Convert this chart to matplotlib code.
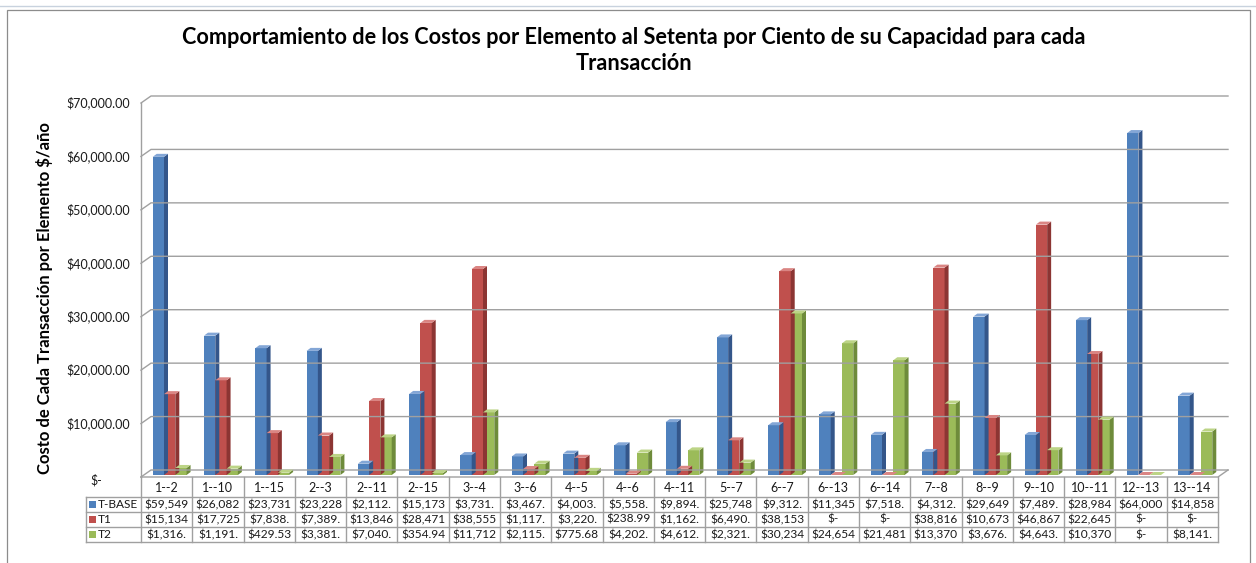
import matplotlib
matplotlib.use("Agg")
import matplotlib.pyplot as plt
from matplotlib.patches import Polygon, Rectangle
from matplotlib.lines import Line2D
from matplotlib.transforms import ScaledTranslation, IdentityTransform

plt.rcParams["text.parse_math"] = False
plt.rcParams["font.family"] = ["Lato", "DejaVu Sans"]

# ---- data -------------------------------------------------------------
categories = ["1--2", "1--10", "1--15", "2--3", "2--11", "2--15", "3--4",
              "3--6", "4--5", "4--6", "4--11", "5--7", "6--7", "6--13",
              "6--14", "7--8", "8--9", "9--10", "10--11", "12--13", "13--14"]
t_base = [59549, 26082, 23731, 23228, 2112, 15173, 3731, 3467, 4003, 5558,
          9894, 25748, 9312, 11345, 7518, 4312, 29649, 7489, 28984, 64000,
          14858]
t1 = [15134, 17725, 7838, 7389, 13846, 28471, 38555, 1117, 3220, 238.99,
      1162, 6490, 38153, 0, 0, 38816, 10673, 46867, 22645, 0, 0]
t2 = [1316, 1191, 429.53, 3381, 7040, 354.94, 11712, 2115, 775.68, 4202,
      4612, 2321, 30234, 24654, 21481, 13370, 3676, 4643, 10370, 0, 8141]
series_names = ["T-BASE", "T1", "T2"]
y_ticks = [0, 10000, 20000, 30000, 40000, 50000, 60000, 70000]

title_lines = ["Comportamiento de los Costos por Elemento al Setenta por Ciento de su Capacidad para cada",
               "Transacción"]
y_label = "Costo de Cada Transacción por Elemento $/año"

series = [t_base, t1, t2]
face_col = ["#4F81BD", "#C0504D", "#9BBB59"]
side_col = ["#34568A", "#8C3533", "#6E8B3B"]
top_col = ["#83A6D6", "#DA8583", "#BCD486"]
grid_col = "#A0A0A0"
text_col = "#1A1A1A"

# ---- figure / axes ----------------------------------------------------
W, H = 1256, 563
fig = plt.figure(figsize=(W / 100, H / 100), dpi=100)
fig.patch.set_facecolor("white")
L, R, B, T = 141, 1218, 477, 103        # front plane box, pixels from top-left
ax = fig.add_axes([L / W, 1 - B / H, (R - L) / W, (B - T) / H])
n = len(categories)
ax.set_xlim(-0.5, n - 0.5)
ax.set_ylim(0, 70000)
ax.axis("off")

IDT = IdentityTransform()
WALL = (10, 7)        # depth of the back wall in pixels
BAR_SHIFT = (3, 2)    # bars sit slightly behind the front plane
BAR_DEPTH = (4, 3)


def disp(x, y, dx=0.0, dy=0.0):
    px, py = ax.transData.transform((x, y))
    return (px + dx, py + dy)


def pix(x, y_from_top):
    return (x, H - y_from_top)


def line(points, **kw):
    xs = [p[0] for p in points]
    ys = [p[1] for p in points]
    fig.add_artist(Line2D(xs, ys, transform=IDT, **kw))


# chart frame and sheet line above it
fig.add_artist(Rectangle(pix(7, 566), 1243, 556, transform=IDT, fill=False,
                         edgecolor="#8C8C8C", lw=0.9))
line([pix(0, 6), pix(W, 6)], color="#C8D2DE", lw=1)

# ---- walls and gridlines ---------------------------------------------
x_left, x_right = -0.5, n - 0.5
for v in y_ticks:
    line([disp(x_left, v), disp(x_left, v, *WALL), disp(x_right, v, *WALL)],
         color=grid_col, lw=1.0)
line([disp(x_left, 0), disp(x_left, 70000)], color=grid_col, lw=1.0)
line([disp(x_left, 0), disp(x_right, 0), disp(x_right, 0, *WALL)],
     color=grid_col, lw=1.0)

# y tick labels
for v in y_ticks:
    px_, py_ = disp(x_left, v)
    if v == 0:
        fig.text(96, py_ - 3, "$-", transform=IDT, ha="center", va="center",
                 fontsize=9, color=text_col)
    else:
        fig.text(px_ - 11, py_, f"${v:,.2f}", transform=IDT, ha="right",
                 va="center", fontsize=9, color=text_col)

# ---- 3D-looking clustered columns -------------------------------------
bw = 0.22
offsets = [-bw, 0.0, bw]
shift = ScaledTranslation(BAR_SHIFT[0] / 100, BAR_SHIFT[1] / 100,
                          fig.dpi_scale_trans)
for s, vals in enumerate(series):
    xs = [i + offsets[s] for i in range(n)]
    ax.bar(xs, vals, bw, color=face_col[s], linewidth=0,
           transform=ax.transData + shift, zorder=3, clip_on=False)
    for x, v in zip(xs, vals):
        x0, x1 = x - bw / 2, x + bw / 2
        sx, sy = BAR_SHIFT
        dx, dy = BAR_DEPTH
        side = [disp(x1, 0, sx, sy), disp(x1, v, sx, sy),
                disp(x1, v, sx + dx, sy + dy), disp(x1, 0, sx + dx, sy + dy)]
        top = [disp(x0, v, sx, sy), disp(x1, v, sx, sy),
               disp(x1, v, sx + dx, sy + dy), disp(x0, v, sx + dx, sy + dy)]
        fig.add_artist(Polygon(side, closed=True, transform=IDT,
                               facecolor=side_col[s], edgecolor="none",
                               zorder=1))
        fig.add_artist(Polygon(top, closed=True, transform=IDT,
                               facecolor=top_col[s], edgecolor="none",
                               zorder=2))
ax.set_zorder(0)

# ---- data table -------------------------------------------------------
row_edges = [477, 497, 512, 527, 542]   # header, T-BASE, T1, T2
leg_left = 86
col_edges = [disp(i - 0.5, 0)[0] for i in range(n + 1)]


def fmt(v):
    if v == 0:
        return "$-"
    return f"${v:,.2f}"[:7]


for cx in col_edges:
    line([(cx, H - row_edges[0]), (cx, H - row_edges[-1])], color=grid_col,
         lw=1.0)
line([(leg_left, H - row_edges[1]), (leg_left, H - row_edges[-1])],
     color=grid_col, lw=1.0)
for ry in row_edges[1:]:
    line([(leg_left, H - ry), (col_edges[-1], H - ry)], color=grid_col,
         lw=1.0)

for i, c in enumerate(categories):
    cx = (col_edges[i] + col_edges[i + 1]) / 2
    fig.text(cx, H - (row_edges[0] + row_edges[1]) / 2 - 1, c, transform=IDT,
             ha="center", va="center", fontsize=9, color=text_col)

for s, vals in enumerate(series):
    cy = H - (row_edges[s + 1] + row_edges[s + 2]) / 2
    fig.add_artist(Rectangle((leg_left + 3, cy - 3.5), 7, 7, transform=IDT,
                             facecolor=face_col[s], edgecolor="none"))
    fig.text(leg_left + 12, cy, series_names[s], transform=IDT, ha="left",
             va="center", fontsize=8.6, color=text_col)
    for i, v in enumerate(vals):
        cx = (col_edges[i] + col_edges[i + 1]) / 2
        fig.text(cx, cy, fmt(v), transform=IDT, ha="center", va="center",
                 fontsize=8.6, color=text_col)

# ---- titles -----------------------------------------------------------
fig.text(634, H - 37, title_lines[0], transform=IDT, ha="center",
         va="center", fontsize=15.6, fontweight="bold", color="black")
fig.text(634, H - 63, title_lines[1], transform=IDT, ha="center",
         va="center", fontsize=15.6, fontweight="bold", color="black")
fig.text(45, H - 298, y_label, transform=IDT, rotation=90, ha="center",
         va="center", fontsize=12, fontweight="bold", color="black")

fig.savefig("out.png", dpi=100)
